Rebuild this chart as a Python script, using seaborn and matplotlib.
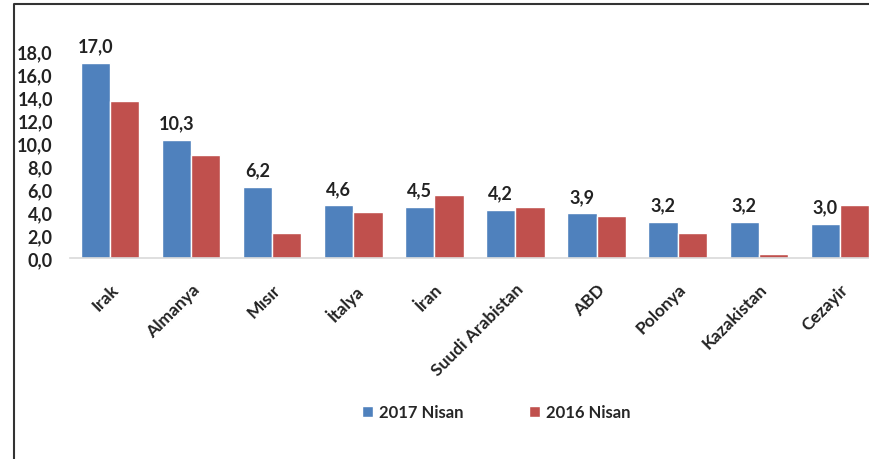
import pandas as pd
import seaborn as sns
import matplotlib.pyplot as plt
from matplotlib.lines import Line2D

# Data
countries = ["Irak", "Almanya", "Mısır", "İtalya", "İran", "Suudi Arabistan",
             "ABD", "Polonya", "Kazakistan", "Cezayir"]
nisan_2017 = [17.0, 10.3, 6.2, 4.6, 4.5, 4.2, 3.9, 3.2, 3.2, 3.0]
nisan_2016 = [13.7, 9.0, 2.2, 4.0, 5.5, 4.5, 3.7, 2.2, 0.4, 4.6]
series_names = ["2017 Nisan", "2016 Nisan"]
yticks = [0, 2, 4, 6, 8, 10, 12, 14, 16, 18]

df = pd.DataFrame({
    "Ülke": countries * 2,
    "Değer": nisan_2017 + nisan_2016,
    "Dönem": [series_names[0]] * len(countries) + [series_names[1]] * len(countries),
})

sns.set_style("white")
plt.rcParams["font.family"] = ["Lato", "DejaVu Sans"]

fig = plt.figure(figsize=(8.69, 4.6), dpi=100)
ax = fig.add_axes([0.080, 0.436, 0.920, 0.476])

sns.barplot(data=df, x="Ülke", y="Değer", hue="Dönem", order=countries,
            hue_order=series_names, palette=["#4F81BD", "#C0504D"],
            width=0.72, saturation=1, errorbar=None, ax=ax)

# value labels above the 2017 bars only
ax.bar_label(ax.containers[0], labels=[f"{v:.1f}".replace(".", ",") for v in nisan_2017],
             padding=6, fontsize=13, fontweight="bold", color="#222222")

ax.set_xlim(-0.5, 9.36)
ax.set_ylim(0, 19)
ax.set_yticks(yticks)
ax.set_yticklabels([f"{t:.1f}".replace(".", ",") for t in yticks],
                   fontsize=13, fontweight="bold", color="#222222")
ax.set_xticks(range(len(countries)))
ax.set_xticklabels(countries, rotation=45, ha="right", rotation_mode="anchor",
                   fontsize=12.5, fontweight="bold", color="#222222")
ax.tick_params(axis="both", length=0)
ax.tick_params(axis="y", pad=12)
ax.tick_params(axis="x", pad=16)
ax.set_xlabel("")
ax.set_ylabel("")

for side in ["top", "right", "left"]:
    ax.spines[side].set_visible(False)
ax.spines["bottom"].set_color("#D9D9D9")
ax.spines["bottom"].set_linewidth(1.2)

handles, labels = ax.get_legend_handles_labels()
ax.legend(handles, labels, loc="center", bbox_to_anchor=(0.571, 1 - 413 / 460),
          bbox_transform=fig.transFigure, ncol=2, frameon=False,
          prop={"size": 12, "weight": "bold"}, handlelength=0.65, handleheight=0.65,
          columnspacing=3.9, handletextpad=0.4)

# outer frame (left and top edges)
xl = 14.5 / 869
yt = 1 - 4.5 / 460
fig.add_artist(Line2D([xl, xl, 1.0], [0.0, yt, yt], transform=fig.transFigure,
                      color="#333333", linewidth=1.5))

fig.savefig("out.png", dpi=100)
